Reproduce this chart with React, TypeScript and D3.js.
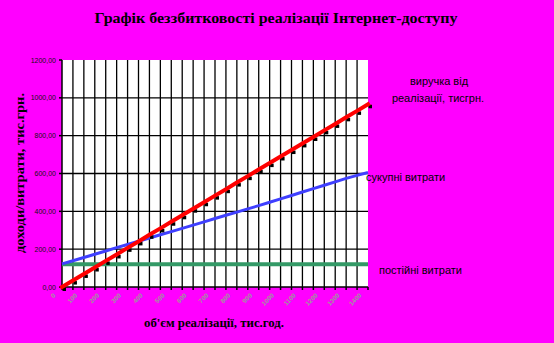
import React from "react";
import * as d3 from "d3";

// Sales volume, thousand hours (category axis, step 50)
const volumes: number[] = [
  0, 50, 100, 150, 200, 250, 300, 350, 400, 450, 500, 550, 600, 650, 700,
  750, 800, 850, 900, 950, 1000, 1050, 1100, 1150, 1200, 1250, 1300, 1350, 1400,
];

// Revenue from sales, thousand UAH
const revenue: number[] = [
  0, 34, 69, 103, 138, 172, 207, 241, 276, 310, 345, 379, 414, 448, 483,
  517, 552, 586, 621, 655, 690, 724, 759, 793, 828, 862, 897, 931, 966,
];

// Total costs, thousand UAH
const totalCosts: number[] = [
  122, 139, 156, 173, 190, 208, 225, 242, 259, 276, 293, 310, 327, 344, 362,
  379, 396, 413, 430, 448, 466, 484, 502, 520, 538, 556, 574, 590, 605,
];

// Fixed costs, thousand UAH
const fixedCosts: number[] = [
  120, 120, 120, 120, 120, 120, 120, 120, 120, 120, 120, 120, 120, 120, 120,
  120, 120, 120, 120, 120, 120, 120, 120, 120, 120, 120, 120, 120, 120,
];

const yTicks: number[] = [0, 200, 400, 600, 800, 1000, 1200];
const yTickLabels: string[] = ["0,00", "200,00", "400,00", "600,00", "800,00", "1000,00", "1200,00"];

const W = 554;
const H = 343;
const left = 62;
const right = 368;
const top = 60;
const bottom = 287;

export default function App() {
  const x = d3.scalePoint<number>().domain(volumes).range([left, right]);
  const y = d3.scaleLinear().domain([0, 1200]).range([bottom, top]);

  const line = (vals: number[]) =>
    d3
      .line<number>()
      .x((_, i) => x(volumes[i]) as number)
      .y((v) => y(v))(vals) as string;

  const serif = "'Liberation Serif', 'DejaVu Serif', serif";
  const sans = "'Liberation Sans', Arial, sans-serif";

  return (
    <svg
      width={W}
      height={H}
      style={{ position: "absolute", left: 0, top: 0, display: "block" }}
    >
      <rect x={0} y={0} width={W} height={H} fill="#FF00FF" />

      {/* title */}
      <text
        x={276}
        y={23}
        textAnchor="middle"
        fontFamily={serif}
        fontWeight="bold"
        fontSize={15}
        textLength={363}
        lengthAdjust="spacingAndGlyphs"
        fill="#000"
      >
        Графік беззбитковості реалізації Інтернет-доступу
      </text>

      {/* plot area */}
      <rect x={left} y={top} width={right - left} height={bottom - top} fill="#fff" />

      {/* vertical gridlines */}
      {volumes.slice(1, -1).map((v) => (
        <line
          key={"vg" + v}
          x1={x(v)}
          x2={x(v)}
          y1={top}
          y2={bottom}
          stroke="#000"
          strokeWidth={1.3}
        />
      ))}

      {/* horizontal gridlines */}
      {yTicks.slice(1, -1).map((t) => (
        <line
          key={"hg" + t}
          x1={left}
          x2={right}
          y1={y(t)}
          y2={y(t)}
          stroke="#000"
          strokeWidth={1.3}
        />
      ))}

      {/* y axis */}
      <line x1={left} x2={left} y1={top} y2={bottom} stroke="#000" strokeWidth={1.5} />
      {yTicks.map((t, i) => (
        <g key={"yt" + t}>
          <line x1={left - 3} x2={left} y1={y(t)} y2={y(t)} stroke="#000" strokeWidth={1.5} />
          <text
            x={56}
            y={y(t) + 2.5}
            textAnchor="end"
            fontFamily={sans}
            fontSize={7}
            fill="#111"
          >
            {yTickLabels[i]}
          </text>
        </g>
      ))}

      {/* x axis */}
      <line x1={left} x2={right} y1={bottom} y2={bottom} stroke="#000" strokeWidth={1.5} />
      {volumes.map((v) => (
        <line
          key={"xt" + v}
          x1={x(v)}
          x2={x(v)}
          y1={bottom}
          y2={bottom + 3}
          stroke="#000"
          strokeWidth={1.5}
        />
      ))}
      {volumes
        .filter((_, i) => i % 2 === 0)
        .map((v) => {
          const px = (x(v) as number) - 6;
          const py = 296;
          return (
            <text
              key={"xl" + v}
              x={px}
              y={py}
              textAnchor="end"
              fontFamily={sans}
              fontSize={6.5}
              fontWeight="bold"
              fill="#9a9a9a"
              transform={`rotate(-45 ${px} ${py})`}
            >
              {v}
            </text>
          );
        })}

      {/* fixed costs */}
      <path d={line(fixedCosts)} fill="none" stroke="#339966" strokeWidth={4} />

      {/* total costs */}
      <path d={line(totalCosts)} fill="none" stroke="#3F3FFF" strokeWidth={3} />

      {/* revenue markers */}
      {revenue.map((v, i) => (
        <rect
          key={"m" + i}
          x={(x(volumes[i]) as number) + 0.5}
          y={y(v) + 0.5}
          width={3.5}
          height={3.5}
          fill="#000"
        />
      ))}
      {/* revenue */}
      <path
        d={line(revenue)}
        fill="none"
        stroke="#FF0000"
        strokeWidth={4}
        strokeLinecap="square"
      />

      {/* series labels */}
      <text x={439} y={85} textAnchor="middle" fontFamily={sans} fontSize={11} fill="#000">
        виручка від
      </text>
      <text x={438} y={102} textAnchor="middle" fontFamily={sans} fontSize={11} fill="#000">
        реалізації, тисгрн.
      </text>
      <text x={366} y={181} fontFamily={sans} fontSize={11} fill="#000">
        сукупні витрати
      </text>
      <text x={379} y={274} fontFamily={sans} fontSize={11} fill="#000">
        постійні витрати
      </text>

      {/* axis titles */}
      <text
        x={214}
        y={327}
        textAnchor="middle"
        fontFamily={serif}
        fontWeight="bold"
        fontSize={12}
        textLength={140}
        lengthAdjust="spacingAndGlyphs"
        fill="#000"
      >
        об'єм реалізації, тис.год.
      </text>
      <text
        transform="translate(24,173) rotate(-90)"
        textAnchor="middle"
        fontFamily={serif}
        fontWeight="bold"
        fontSize={13}
        textLength={160}
        lengthAdjust="spacingAndGlyphs"
        fill="#000"
      >
        доходи/витрати, тис.грн.
      </text>
    </svg>
  );
}
